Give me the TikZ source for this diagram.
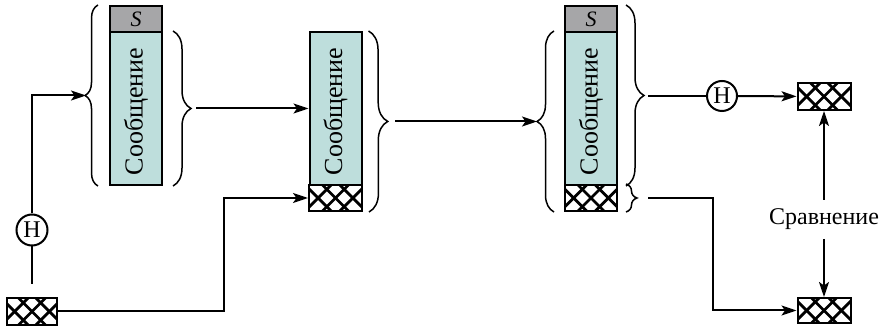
\documentclass[tikz,border=0pt]{standalone}
\usepackage{fontspec}
\setmainfont{Liberation Serif}
\newfontfamily\pSerif{Liberation Serif}
\usetikzlibrary{arrows.meta,decorations.pathreplacing}
\definecolor{sGray}{RGB}{166,166,168}
\definecolor{msgTeal}{RGB}{190,222,220}
\newcommand{\pTextSize}{\pSerif\fontsize{24}{28}\selectfont}

\begin{document}
\begin{tikzpicture}[x=1pt,y=-1pt,line width=2pt,
  every node/.style={inner sep=0pt},
  sbox/.style={draw, fill=sGray, minimum width=52pt, minimum height=26pt, font=\pSerif\fontsize{22}{24}\selectfont\itshape},
  msgbox/.style={draw, fill=msgTeal, minimum width=52pt, minimum height=153pt},
  msgtext/.style={rotate=90, font=\pSerif\fontsize{26}{30}\selectfont},
  hatchbox/.style={draw, fill=white, minimum width=52pt, minimum height=26pt,
    path picture={\foreach \k in {-1,0,1}{
      \draw[line width=2.8pt] ([xshift=\k*17.4pt-15pt,yshift=15pt]path picture bounding box.center) -- ++(30pt,-30pt);
      \draw[line width=2.8pt] ([xshift=\k*17.4pt-15pt,yshift=-15pt]path picture bounding box.center) -- ++(30pt,30pt);}}},
  hcirc/.style={draw, circle, minimum size=31pt, font=\pTextSize},
  arr/.style={-{Stealth[length=15pt,width=10pt,inset=3.5pt]}},
  brc/.style={decorate, decoration={brace, amplitude=#1}, line width=1.5pt}]
\useasboundingbox (0,0) rectangle (884,328);

\node[sbox] (sA) at (136,19) {S};
\node[msgbox] (mA) at (136,108.5) {};
\node[msgtext] (lA) at ([yshift=-3pt]mA.center) {Сообщение};

\node[msgbox] (mB) at (335.5,108.5) {};
\node[msgtext] (lB) at ([yshift=-3pt]mB.center) {Сообщение};
\node[hatchbox, minimum width=53pt] (hB) at (335.5,198) {};

\node[sbox] (sC) at (591,19) {S};
\node[msgbox] (mC) at (591,108.5) {};
\node[msgtext] (lC) at ([yshift=-3pt]mC.center) {Сообщение};
\node[hatchbox] (hC) at (591,198) {};

\node[hatchbox, minimum width=50pt, minimum height=27pt] (hIn) at (32,311.5) {};
\node[hatchbox, minimum width=53pt, minimum height=27pt] (hTop) at (824,96.5) {};
\node[hatchbox, minimum width=53pt, minimum height=25pt] (hBot) at (824,310.5) {};

\node[hcirc] (nA) at (32,230) {Н};
\node[hcirc, minimum size=30pt] (nB) at (722,96) {Н};
\node[font=\pTextSize, minimum height=37pt] (cmp) at (824,219.5) {Сравнение};

\draw[brc=13pt] ([xshift=-11pt]mA.south west) -- ([xshift=-11pt]sA.north west);
\draw[brc=18pt] ([xshift=10pt]mA.north east) -- ([xshift=10pt]mA.south east);
\draw[brc=19pt] ([xshift=6pt]mB.north east) -- ([xshift=6pt]hB.south east);
\draw[brc=17pt] ([xshift=-10pt]hC.south west) -- ([xshift=-10pt]mC.north west);
\draw[brc=18pt] ([xshift=8pt]sC.north east) -- ([xshift=8pt]mC.south east);
\draw[brc=11pt] ([xshift=8pt]hC.north east) -- ([xshift=8pt]hC.south east);

\coordinate (tA) at (86,95.5);
\coordinate (oA) at (196,108.5);
\coordinate (oB) at (395,121.5);
\coordinate (tC) at (537,121.5);
\coordinate (oC) at (648,96);
\coordinate (oD) at (648,198);
\coordinate (kA) at (224,250);
\coordinate (kB) at (713,250);

\draw ([yshift=13pt]hIn.north) -- (nA);
\draw[arr] (nA) |- (tA);
\draw[arr] (hIn) -| (kA) |- (hB);
\draw[arr] (oA) -- (oA -| mB.west);
\draw[arr] (oB) -- (tC);
\draw (oC) -- (nB);
\draw[arr] (nB) -- (hTop);
\draw[arr] (oD) -| (kB) |- (hBot);
\draw[arr] (cmp) -- (hTop);
\draw[arr] (cmp) -- (hBot);
\end{tikzpicture}
\end{document}
